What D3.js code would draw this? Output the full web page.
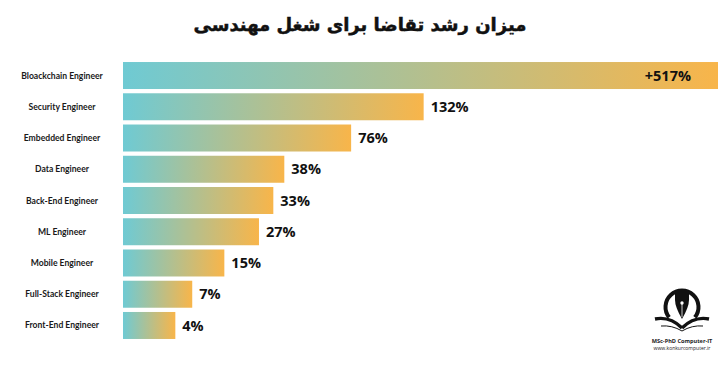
<!DOCTYPE html>
<html>
<head>
<meta charset="utf-8">
<script src="https://cdn.jsdelivr.net/npm/d3@7"></script>
<style>
  html, body { margin: 0; padding: 0; background: #ffffff; }
  svg { display: block; }
</style>
</head>
<body>
<svg id="chart" width="720" height="365"></svg>
<script>
const titleText = "میزان رشد تقاضا برای شغل مهندسی";
const categories = [
  "Bloackchain Engineer",
  "Security Engineer",
  "Embedded Engineer",
  "Data Engineer",
  "Back-End Engineer",
  "ML Engineer",
  "Mobile Engineer",
  "Full-Stack Engineer",
  "Front-End Engineer"
];
const growthValues = [517, 132, 76, 38, 33, 27, 15, 7, 4];
const valueLabels = ["+517%", "132%", "76%", "38%", "33%", "27%", "15%", "7%", "4%"];
const logoLines = ["MSc-PhD Computer-IT", "www.konkurcomputer.ir"];

const svg = d3.select("#chart");
const W = 720, H = 365;
const margin = { left: 123, right: 2, top: 59.9, bottom: 23.9 };

const defs = svg.append("defs");
const grad = defs.append("linearGradient")
  .attr("id", "barGrad")
  .attr("x1", "0%").attr("x2", "100%").attr("y1", "0%").attr("y2", "0%");
grad.append("stop").attr("offset", "0%").attr("stop-color", "#6fcad3");
grad.append("stop").attr("offset", "100%").attr("stop-color", "#f8b54a");

const x = d3.scaleSqrt()
  .domain([0, d3.max(growthValues)])
  .range([margin.left, W - margin.right]);

const y = d3.scaleBand()
  .domain(categories)
  .range([margin.top, H - margin.bottom])
  .paddingInner(0.136)
  .paddingOuter(0.068);

// Title
svg.append("text")
  .attr("x", 360)
  .attr("y", 31)
  .attr("text-anchor", "middle")
  .attr("direction", "rtl")
  .attr("font-family", "'DejaVu Sans', sans-serif")
  .attr("font-weight", "bold")
  .attr("font-size", 18)
  .attr("fill", "#111")
  .attr("stroke", "#111")
  .attr("stroke-width", 0.5)
  .text(titleText);

const rows = categories.map((c, i) => ({ cat: c, v: growthValues[i], label: valueLabels[i] }));

// Bars
svg.append("g").selectAll("rect")
  .data(rows)
  .join("rect")
  .attr("x", x(0))
  .attr("y", d => y(d.cat))
  .attr("width", d => x(d.v) - x(0))
  .attr("height", y.bandwidth())
  .attr("fill", "url(#barGrad)");

// Category labels
svg.append("g").selectAll("text")
  .data(rows)
  .join("text")
  .attr("x", 62)
  .attr("y", d => y(d.cat) + y.bandwidth() / 2)
  .attr("dy", "0.35em")
  .attr("text-anchor", "middle")
  .attr("font-family", "Lato, 'Open Sans', sans-serif")
  .attr("font-weight", "bold")
  .attr("font-size", 8.6)
  .attr("fill", "#1a1a1a")
  .text(d => d.cat);

// Value labels
svg.append("g").selectAll("text")
  .data(rows)
  .join("text")
  .attr("x", d => {
    const end = x(d.v);
    return end > W - 60 ? end - 27 : end + 7;
  })
  .attr("text-anchor", d => x(d.v) > W - 60 ? "end" : "start")
  .attr("y", d => y(d.cat) + y.bandwidth() / 2)
  .attr("dy", "0.36em")
  .attr("font-family", "'Open Sans', Lato, sans-serif")
  .attr("font-weight", "bold")
  .attr("font-size", 14.5)
  .attr("fill", "#111")
  .text(d => d.label);

// Logo
const logo = svg.append("g").attr("transform", "translate(682,307)");
logo.append("path")
  .attr("d", d3.arc()({ innerRadius: 14.5, outerRadius: 18.5, startAngle: -2.25, endAngle: 2.25 }))
  .attr("fill", "#111");
logo.append("path")
  .attr("d", "M-7,-16 L7,-16 L7,-7 Q7,0 0,12 Q-7,0 -7,-7 Z")
  .attr("fill", "#111");
logo.append("line")
  .attr("x1", 0).attr("y1", -3).attr("x2", 0).attr("y2", 10)
  .attr("stroke", "#fff").attr("stroke-width", 0.8);
logo.append("circle").attr("cx", 0).attr("cy", -4).attr("r", 1.7).attr("fill", "#fff");
logo.append("path")
  .attr("d", "M0,21 Q-12,9 -27,12 M0,21 Q12,9 27,12")
  .attr("fill", "none").attr("stroke", "#111").attr("stroke-width", 3.4);
logo.append("path")
  .attr("d", "M0,24 Q-10,18 -21,19 M0,24 Q10,18 21,19")
  .attr("fill", "none").attr("stroke", "#111").attr("stroke-width", 1);

svg.append("g").selectAll("text")
  .data(logoLines)
  .join("text")
  .attr("x", 682)
  .attr("y", (d, i) => 343 + i * 6.5)
  .attr("text-anchor", "middle")
  .attr("font-family", "'Open Sans', sans-serif")
  .attr("font-weight", (d, i) => i === 0 ? "bold" : "normal")
  .attr("font-size", (d, i) => i === 0 ? 5.6 : 5)
  .attr("fill", "#222")
  .text(d => d);
</script>
</body>
</html>
